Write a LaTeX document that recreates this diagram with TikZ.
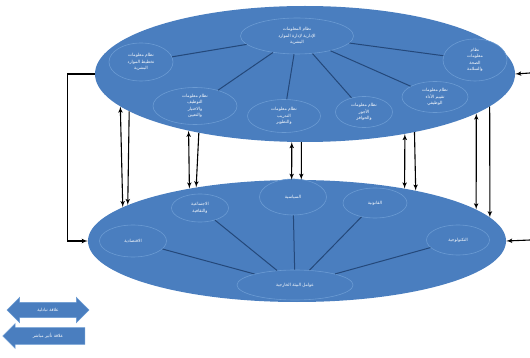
\documentclass[tikz,border=0pt]{standalone}
\usepackage{fontspec}
\usepackage{xcolor}
\usetikzlibrary{shapes.geometric, shapes.arrows, arrows, positioning}
\newfontfamily\arabicfont[Script=Arabic]{DejaVu Sans}
\TeXXeTstate=1
\newcommand{\artxt}[1]{\beginR#1\endR}
\definecolor{ellblue}{HTML}{4A7EBF}
\definecolor{ellrim}{HTML}{6B9BD3}
\definecolor{linknavy}{HTML}{24487A}

\begin{document}
\begin{tikzpicture}[x=1pt, y=-1pt,
        env/.style={ellipse, fill=ellblue, draw=none, inner sep=0pt},
        sub/.style={ellipse, fill=ellblue, draw=ellrim, line width=0.6pt, text=white, inner sep=0pt, align=center, font=\arabicfont\fontsize{4.3}{6.5}\selectfont},
        link/.style={draw=linknavy, line width=1pt},
        line/.style={draw, -latex', line width=1.1pt},
        both/.style={draw, latex'-latex', line width=1.1pt},
        legend/.style={fill=ellblue, draw=ellrim, line width=0.5pt, text=white, inner ysep=5.5pt, minimum height=82pt, font=\arabicfont\fontsize{4.3}{5}\selectfont}]

        \useasboundingbox (0,0) rectangle (530,358);

        % Environments
        \node [env, minimum width=420pt, minimum height=136pt] (topenv) at (305,74) {};
        \node [env, minimum width=418pt, minimum height=122pt] (botenv) at (297,241) {};

        % Internal subsystems
        \node [sub, minimum width=113pt, minimum height=36pt] (hrm) at (297,36) {\artxt{نظام المعلومات}\\\artxt{الإدارية لإدارة الموارد}\\\artxt{البشرية}};
        \node [sub, minimum width=64pt, minimum height=38pt] (plan) at (141,62) {\artxt{نظام معلومات}\\\artxt{تخطيط الموارد}\\\artxt{البشرية}};
        \node [sub, minimum width=84pt, minimum height=37pt] (hire) at (195,106) {\artxt{نظام معلومات}\\\artxt{التوظيف}\\\artxt{والاختيار}\\\artxt{والتعيين}};
        \node [sub, minimum width=73pt, minimum height=33pt] (train) at (284,116) {\artxt{نظام معلومات}\\\artxt{التدريب}\\\artxt{والتطوير}};
        \node [sub, minimum width=57pt, minimum height=31pt] (pay) at (364,112) {\artxt{نظام معلومات}\\\artxt{الأجور}\\\artxt{والحوافز}};
        \node [sub, minimum width=66pt, minimum height=31pt] (perf) at (435,97) {\artxt{نظام معلومات}\\\artxt{تقييم الأداء}\\\artxt{الوظيفي}};
        \node [sub, minimum width=64pt, minimum height=42pt] (safe) at (475,60) {\artxt{نظام}\\\artxt{معلومات}\\\artxt{الصحة}\\\artxt{والسلامة}};

        % External factors
        \node [sub, minimum width=116pt, minimum height=30pt] (ext) at (295,285) {\artxt{عوامل البيئة الخارجية}};
        \node [sub, minimum width=67pt, minimum height=32pt] (econ) at (133,241) {\artxt{الاقتصادية}};
        \node [sub, minimum width=57pt, minimum height=28pt] (soc) at (200,208) {\artxt{الاجتماعية}\\\artxt{والثقافية}};
        \node [sub, minimum width=67pt, minimum height=36pt] (pol) at (293,197) {\artxt{السياسية}};
        \node [sub, minimum width=64pt, minimum height=30pt] (law) at (375,203) {\artxt{القانونية}};
        \node [sub, minimum width=63pt, minimum height=30pt] (tech) at (458,240) {\artxt{التكنولوجية}};

        % Links
        \foreach \s in {plan, hire, train, pay, perf, safe}
            \path [link] (hrm) -- (\s);
        \foreach \s in {econ, soc, pol, law, tech}
            \path [link] (ext) -- (\s);

        % Relations between environments
        \foreach \xa/\xb in {119/128, 187/196, 291/301, 403/414, 475/486} {
            \pgfmathsetmacro\ca{(\xa-305)/210}
            \pgfmathsetmacro\ta{atan2(-68*sqrt(1-\ca*\ca), 210*\ca)}
            \pgfmathsetmacro\cb{(\xa-297)/209}
            \pgfmathsetmacro\ba{atan2(61*sqrt(1-\cb*\cb), 209*\cb)}
            \pgfmathsetmacro\cc{(\xb-305)/210}
            \pgfmathsetmacro\tb{atan2(-68*sqrt(1-\cc*\cc), 210*\cc)}
            \pgfmathsetmacro\cd{(\xb-297)/209}
            \pgfmathsetmacro\bb{atan2(61*sqrt(1-\cd*\cd), 209*\cd)}
            \path [both] (botenv.\ba) -- (topenv.\ta);
            \path [line] (topenv.\tb) -- (botenv.\bb);
        }

        % Side inputs
        \coordinate (intop) at (530,73);
        \coordinate (inbot) at (530,240);
        \path [line] (intop) -- (topenv.east);
        \path [line] (inbot) -- (botenv.east);
        \path [line] (topenv.west) -- ++(-27,0) |- (botenv.west);

        % Legend
        \node [legend, double arrow, double arrow head extend=5pt] (mutual) at (48,310) {\artxt{علاقة تبادلية}};
        \node [legend, single arrow, single arrow head extend=4pt, shape border rotate=180] (direct) at (48,336) {\artxt{علاقة تأثير مباشر}};
    \end{tikzpicture}
\end{document}
